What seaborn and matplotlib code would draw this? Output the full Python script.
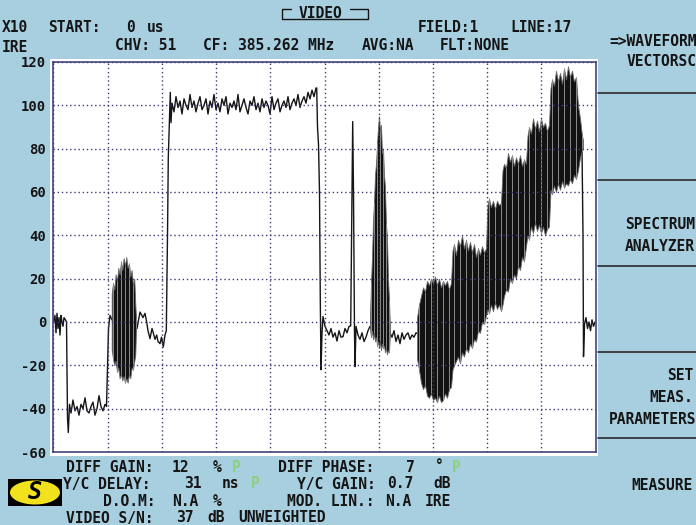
import numpy as np
import pandas as pd
import seaborn as sns
import matplotlib.pyplot as plt
from matplotlib.patches import Rectangle, Ellipse
from matplotlib.lines import Line2D

# waveform: time in us from the left edge of the graticule, level in IRE
t_span = 54.24  # 10 divisions

front_t = [0.02, 0.17, 0.27, 0.37, 0.47, 0.57, 0.67, 0.77, 0.87, 0.97, 1.07, 1.22, 1.32,
           1.42, 1.50, 1.62, 1.77, 1.97, 2.17, 2.37, 2.57, 2.77, 2.97, 3.17, 3.37, 3.57,
           3.77, 3.97, 4.17, 4.37, 4.57, 4.77, 4.97, 5.17, 5.32, 5.42, 5.52, 5.67, 5.87,
           6.97, 8.17, 8.37, 8.67, 8.97, 9.17, 9.34, 9.47, 9.67, 9.87, 10.0, 10.17, 10.34,
           10.47, 10.67, 10.82, 11.0, 11.17, 11.3, 11.42, 11.5, 11.62, 11.7, 11.77]
front_ire = [0, 3, -5, 4, -3, 2, -6, 3, 0, -2, 2, 1, 0,
             -44, -51, -38, -42, -36, -41, -39, -43, -38, -40, -35, -41, -42,
             -39, -37, -43, -40, -34, -39, -41, -38, -39, -20, -3, 3, 1,
             0, 0, -3, 4.6, 2, 4, 0, -4, -7.7, -3, -5, -8, -6,
             -9, -10, -7, -11.5, -6, -4, 40, 76, 95, 106, 92]

# white bar, sampled every 0.2 us
bar_t0, bar_t1 = 11.87, 26.27
bar_ire = [101, 97, 104, 99, 102, 96, 103, 100, 98, 105, 99, 102, 97, 101, 104, 98, 100,
           103, 96, 102, 99, 105, 98, 101, 97, 103, 100, 104, 96, 101, 99, 102, 98, 105,
           97, 100, 103, 99, 96, 102, 100, 104, 98, 101, 97, 103, 99, 102, 100, 96, 104,
           98, 101, 103, 97, 100, 102, 99, 104, 98, 101, 103, 100, 105, 99, 102, 104, 101,
           106, 103, 107, 104, 108]

back_t = [26.34, 26.42, 26.52, 26.62, 26.7, 26.77, 26.87, 26.97, 27.17, 27.37, 27.57,
          27.77, 27.97, 28.17, 28.37, 28.57, 28.77, 28.97, 29.17, 29.37, 29.57, 29.74,
          29.87, 29.94, 30.02, 30.12, 30.17, 30.27, 30.47, 30.67, 30.87, 31.07, 31.27,
          31.47, 31.67, 32.67, 33.67, 33.87, 34.07, 34.27, 34.47, 34.67, 34.87, 35.07,
          35.27, 35.47, 35.67, 35.87, 36.07, 36.27, 37.67, 41.67, 44.17, 45.87, 48.37,
          51.17, 52.87, 52.97, 53.02, 53.12, 53.27, 53.42, 53.57, 53.72, 53.87, 54.02, 54.17]
back_ire = [108, 90, 82, 60, 10, -22, -5, 2.5, -2, -4, -6,
            -3, -7, -5, -8.8, -4, -7, -6.8, -3, -5, -2, -1.8,
            60, 92.5, 60, -5, -20.6, -2, -6, -8, -5, -9, -7,
            -4, -2, -6, -5, -7, -4, -9, -6, -10, -5, -8,
            -6, -5, -8, -6, -7, -5, -8, 12, 30, 48, 68,
            88, 80, 40, -16, -1, 2, -3, 0, -4, 1, -2, 0]

# chroma packets: upper and lower envelope
burst_t = [5.84, 5.97, 6.1, 6.23, 6.37, 6.5, 6.63, 6.77, 6.9, 7.03, 7.17, 7.3, 7.43,
           7.57, 7.7, 7.83, 7.97, 8.1, 8.2, 8.27]
burst_top = [13, 18, 15, 22, 19, 25, 22, 28, 24, 29.5, 26, 30, 25, 27, 21, 24, 17, 20, 8, 2]
burst_bot = [-13, -17, -20, -18, -23, -21, -26, -24, -27, -25, -28, -26, -28, -24, -26, -21,
             -22, -18, -15, -3]

pulse_t = [31.67, 31.77, 31.87, 31.97, 32.07, 32.17, 32.27, 32.37, 32.47, 32.57, 32.67,
           32.77, 32.87, 32.97, 33.07, 33.17, 33.27, 33.37, 33.47, 33.57, 33.67]
pulse_top = [3, 18, 30, 47, 55, 68, 73, 82, 90, 95, 88, 91, 78, 80, 68, 62, 45, 39, 20, 10, -3]
pulse_bot = [-3, -7, -4, -8, -5, -9, -7, -11, -9, -12, -9, -13, -10, -12, -11, -14, -12, -15,
             -13, -14, -5]

stair_t = [36.37, 36.57, 36.77, 36.97, 37.17, 37.37, 37.57, 37.77, 37.97, 38.17, 38.37,
           38.57, 38.77, 38.97, 39.17, 39.37, 39.57, 39.77, 39.92, 40.07, 40.27, 40.47,
           40.67, 40.87, 41.07, 41.27, 41.47, 41.67, 41.87, 42.07, 42.27, 42.47, 42.67,
           42.87, 43.07, 43.27, 43.42, 43.57, 43.77, 43.97, 44.17, 44.37, 44.57, 44.77,
           44.92, 45.07, 45.27, 45.47, 45.67, 45.87, 46.07, 46.27, 46.47, 46.67, 46.87,
           47.07, 47.27, 47.42, 47.57, 47.77, 47.97, 48.17, 48.37, 48.57, 48.77, 48.97,
           49.17, 49.37, 49.57, 49.72, 49.87, 50.07, 50.27, 50.47, 50.67, 50.87, 51.07,
           51.27, 51.47, 51.67, 51.87, 52.07, 52.27, 52.47, 52.67, 52.87, 52.97]
stair_top = [2, 8, 12, 16, 14, 19, 17, 20, 18, 21, 17,
             20, 16, 19, 17, 19, 15, 18, 33, 36, 31, 38,
             35, 40, 34, 38, 33, 37, 32, 36, 30, 34, 31,
             35, 32, 34, 54, 57, 53, 56, 52, 56, 54, 55,
             70, 73, 71, 78, 74, 77, 72, 76, 73, 77, 72,
             75, 73, 86, 90, 87, 94, 89, 93, 88, 94, 90,
             92, 88, 91, 108, 112, 109, 116, 111, 115, 110, 117,
             112, 118, 113, 116, 111, 113, 100, 94, 86, 84]
stair_bot = [-17, -22, -28, -31, -29, -34, -35, -33, -36, -35, -37,
             -34, -37, -36, -33, -35, -31, -30, -22, -20, -18, -16,
             -19, -14, -16, -12, -14, -10, -12, -8, -9, -4, -5,
             0, -1, 3, 6, 4, 8, 5, 9, 6, 8, 5,
             8, 12, 15, 14, 20, 18, 22, 20, 26, 24, 30,
             28, 35, 40, 38, 44, 41, 46, 42, 45, 41, 44,
             40, 43, 44, 61, 59, 63, 60, 64, 61, 65, 62,
             64, 63, 66, 64, 68, 66, 70, 76, 79, 80]

ire_ticks = [-60, -40, -20, 0, 20, 40, 60, 80, 100, 120]

bar_t = np.linspace(bar_t0, bar_t1, len(bar_ire))
trace = pd.DataFrame({
    "t": np.concatenate([front_t, bar_t, back_t]),
    "ire": np.concatenate([front_ire, bar_ire, back_ire]),
})

sns.set_style("white")
plt.rcParams["font.family"] = ["DejaVu Sans Mono", "DejaVu Sans"]
plt.rcParams["font.weight"] = "bold"

bg = "#a8cfe0"
ink = "#151515"
green = "#8ccf7e"
W, H = 696, 525

fig = plt.figure(figsize=(6.96, 5.25), dpi=100, facecolor=bg)


def fx(px):
    return px / W


def fy(py):
    return 1 - py / H


def label(px, py, s, **kw):
    kw.setdefault("fontsize", 10.5)
    kw.setdefault("color", ink)
    kw.setdefault("ha", "left")
    fig.text(fx(px), fy(py), s, va="center", fontweight="bold", **kw)


# white frame round the graticule
fig.patches.append(Rectangle((fx(50), fy(456)), (598 - 50) / W, (456 - 59) / H,
                             transform=fig.transFigure, facecolor="white", edgecolor="none", zorder=-1))

ax = fig.add_axes([fx(53.3), fy(452), 542.4 / W, 390 / H])
ax.set_facecolor("white")

sns.lineplot(data=trace, x="t", y="ire", sort=False, estimator=None, color=ink, lw=1.0, ax=ax)

# chroma packets drawn over the luminance trace
for t, top, bot in [(burst_t, burst_top, burst_bot), (pulse_t, pulse_top, pulse_bot),
                    (stair_t, stair_top, stair_bot)]:
    ax.fill_between(t, bot, top, facecolor="#121212", edgecolor="#6a6a6a", lw=0.6, zorder=2.2)
    ax.vlines(t[1::3], bot[1::3], top[1::3], color="#8c8c8c", lw=0.7, zorder=2.3)

ax.set_xlim(0, t_span)
ax.set_ylim(-60, 120)
ax.set_xticks(np.linspace(0, t_span, 11))
ax.set_xticklabels([])
ax.set_yticks(ire_ticks)
ax.set_yticklabels([str(v) for v in ire_ticks], fontsize=10, fontweight="bold", color=ink)
ax.tick_params(axis="both", length=0, pad=5)
ax.set_xlabel("")
ax.set_ylabel("")
ax.set_axisbelow(False)
ax.grid(True, color="#3b3b78", ls=(0, (1, 2)), lw=1.0)
for sp in ax.spines.values():
    sp.set_color("#45457f")
    sp.set_linewidth(1.2)

# header
fig.lines.append(Line2D([fx(291), fx(282), fx(282), fx(368), fx(368), fx(350)],
                        [fy(9), fy(9), fy(19), fy(19), fy(9), fy(9)],
                        transform=fig.transFigure, color=ink, lw=1.0))
label(320, 13, "VIDEO", ha="center")
label(2, 28, "X10")
label(48, 28, "START:")
label(126, 28, "0")
label(147, 28, "us")
label(418, 28, "FIELD:1")
label(510, 28, "LINE:17")
label(2, 48, "IRE")
label(115, 46, "CHV: 51")
label(203, 46, "CF: 385.262 MHz")
label(362, 46, "AVG:NA")
label(440, 46, "FLT:NONE")

# measurement readout
label(66, 467, "DIFF GAIN:")
label(172, 467, "12")
label(213, 467, "%")
label(232, 467, "P", color=green)
label(278, 467, "DIFF PHASE:")
label(406, 467, "7")
label(435, 467, "°")
label(452, 467, "P", color=green)
label(63, 484, "Y/C DELAY:")
label(184, 484, "31")
label(222, 484, "ns")
label(251, 484, "P", color=green)
label(297, 484, "Y/C GAIN:")
label(387, 484, "0.7")
label(433, 484, "dB")
label(103, 501, "D.O.M:")
label(172, 501, "N.A")
label(213, 501, "%")
label(287, 501, "MOD. LIN.:")
label(385, 501, "N.A")
label(425, 501, "IRE")
label(66, 518, "VIDEO S/N:")
label(176, 518, "37")
label(207, 518, "dB")
label(238, 518, "UNWEIGHTED")

# logo
fig.patches.append(Rectangle((fx(8), fy(506)), 54 / W, 27 / H, transform=fig.transFigure,
                             facecolor="black", edgecolor="none"))
fig.patches.append(Ellipse((fx(35), fy(492.5)), 50 / W, 24 / H, transform=fig.transFigure,
                           facecolor="#f2e21e", edgecolor="none"))
label(35, 492, "S", ha="center", fontsize=17, color="black", fontstyle="italic")

# soft-key menu
for py in [93, 180, 266, 352, 438]:
    fig.lines.append(Line2D([fx(598), fx(696)], [fy(py), fy(py)], transform=fig.transFigure,
                            color="#2a2a2a", lw=1.2))
label(697, 42, "=>WAVEFORM", ha="right")
label(697, 62, "VECTORSC", ha="right")
label(695, 224, "SPECTRUM", ha="right")
label(695, 246, "ANALYZER", ha="right")
label(693, 376, "SET", ha="right")
label(693, 397, "MEAS.", ha="right")
label(696, 419, "PARAMETERS", ha="right")
label(693, 486, "MEASURE", ha="right")

fig.savefig("out.png", dpi=100, facecolor=bg)
